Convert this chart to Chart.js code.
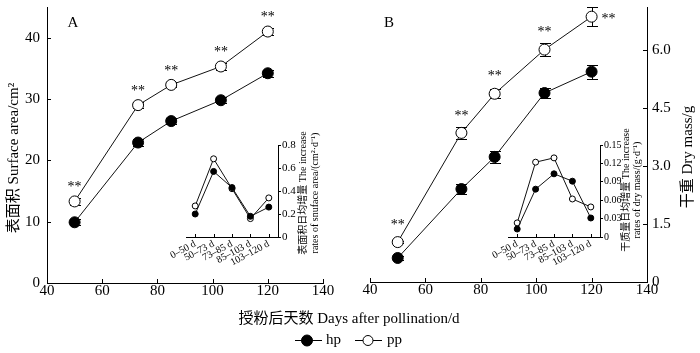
<!DOCTYPE html>
<html><head><meta charset="utf-8">
<script src="https://cdn.jsdelivr.net/npm/chart.js@4.4.1/dist/chart.umd.min.js"></script>
<style>
html,body{margin:0;padding:0;background:#fff;}
#wrap{position:relative;width:700px;height:353px;background:#fff;}
#wrap canvas{position:absolute;left:0;top:0;}
</style></head><body>
<div id="wrap">
<canvas id="cA" width="700" height="353"></canvas>
<canvas id="cB" width="700" height="353"></canvas>
<canvas id="cIA" width="700" height="353"></canvas>
<canvas id="cIB" width="700" height="353"></canvas>
</div>
<script>
// ---------- data ----------
const seriesNames = ['hp', 'pp'];
const days = [50, 73, 85, 103, 120];
const hpArea = [9.9, 22.9, 26.4, 29.8, 34.2];
const ppArea = [13.3, 29.0, 32.3, 35.3, 41.0];
const hpAreaErr = [0.5, 0.5, 0.5, 0.5, 0.6];
const ppAreaErr = [0.6, 0.5, 0.4, 0.5, 0.6];
const hpMass = [0.62, 2.40, 3.23, 4.88, 5.43];
const ppMass = [1.03, 3.85, 4.86, 6.00, 6.85];
const hpMassErr = [0.05, 0.14, 0.15, 0.14, 0.18];
const ppMassErr = [0.03, 0.16, 0.11, 0.16, 0.24];
const sigA = ['**', '**', '**', '**', '**'];
const sigB = ['**', '**', '**', '**', '**'];
const periods = ['0–50 d', '50–73 d', '73–85 d', '85–103 d', '103–120 d'];
const hpAreaRate = [0.20, 0.57, 0.43, 0.18, 0.26];
const ppAreaRate = [0.27, 0.68, 0.42, 0.16, 0.34];
const hpMassRate = [0.013, 0.078, 0.103, 0.091, 0.031];
const ppMassRate = [0.023, 0.122, 0.129, 0.062, 0.049];

const SERIF = "'Liberation Serif', 'Noto Sans CJK SC', serif";
const MIX = "'Liberation Serif', 'Noto Sans CJK SC', serif";

function txt(ctx, s, x, y, font, align, base, rot) {
  ctx.save();
  ctx.font = font; ctx.fillStyle = '#000';
  ctx.textAlign = align || 'center'; ctx.textBaseline = base || 'middle';
  ctx.translate(x, y); if (rot) ctx.rotate(rot);
  ctx.fillText(s, 0, 0);
  ctx.restore();
}

// inward tick marks
const innerTicks = {
  id: 'innerTicks',
  afterDraw(chart, args, opts) {
    const ctx = chart.ctx;
    ctx.save(); ctx.strokeStyle = '#000'; ctx.lineWidth = 1;
    (opts.scales || []).forEach(id => {
      const s = chart.scales[id];
      const len = opts.len || 4;
      s.ticks.forEach((t, i) => {
        const p = Math.round(s.getPixelForTick(i)) + 0.5;
        ctx.beginPath();
        if (s.isHorizontal()) {
          const y = Math.round(s.top);
          ctx.moveTo(p, y); ctx.lineTo(p, y - len);
        } else if (s.position === 'left') {
          const x = Math.round(s.right);
          ctx.moveTo(x, p); ctx.lineTo(x + len, p);
        } else {
          const x = Math.round(s.left);
          ctx.moveTo(x, p); ctx.lineTo(x - len, p);
        }
        ctx.stroke();
      });
    });
    ctx.restore();
  }
};

const errorBars = {
  id: 'errorBars',
  beforeDatasetsDraw(chart, args, opts) {
    const ctx = chart.ctx, xs = chart.scales.x, ys = chart.scales.y;
    ctx.save(); ctx.strokeStyle = '#000'; ctx.lineWidth = 1;
    (opts.sets || []).forEach(set => {
      set.vals.forEach((v, i) => {
        const x = Math.round(xs.getPixelForValue(set.x[i])) + 0.5;
        const y1 = Math.round(ys.getPixelForValue(v - set.err[i])) + 0.5;
        const y2 = Math.round(ys.getPixelForValue(v + set.err[i])) + 0.5;
        const w = 5.5;
        ctx.beginPath();
        ctx.moveTo(x, y1); ctx.lineTo(x, y2);
        ctx.moveTo(x - w, y1); ctx.lineTo(x + w, y1);
        ctx.moveTo(x - w, y2); ctx.lineTo(x + w, y2);
        ctx.stroke();
      });
    });
    ctx.restore();
  }
};

const extrasA = {
  id: 'extrasA',
  afterDraw(chart) {
    const ctx = chart.ctx, xs = chart.scales.x, ys = chart.scales.y;
    txt(ctx, 'A', 73, 23, "15px " + SERIF);
    txt(ctx, '表面积 Surface area/cm²', 14, 158, "15px " + MIX, 'center', 'middle', -Math.PI / 2);
    txt(ctx, '授粉后天数 Days after pollination/d', 349, 319, "15px " + MIX);
    days.forEach((d, i) => {
      txt(ctx, sigA[i], xs.getPixelForValue(d), ys.getPixelForValue(ppArea[i]) - 14, "14px " + SERIF);
    });
    // legend
    const ly = 340.5;
    ctx.save(); ctx.strokeStyle = '#000'; ctx.lineWidth = 1;
    ctx.beginPath(); ctx.moveTo(295, ly); ctx.lineTo(322, ly); ctx.moveTo(355, ly); ctx.lineTo(382, ly); ctx.stroke();
    ctx.beginPath(); ctx.arc(307, ly, 5.5, 0, Math.PI * 2); ctx.fillStyle = '#000'; ctx.fill(); ctx.stroke();
    ctx.beginPath(); ctx.arc(368, ly, 5, 0, Math.PI * 2); ctx.fillStyle = '#fff'; ctx.fill(); ctx.stroke();
    ctx.restore();
    txt(ctx, seriesNames[0], 326, ly, "15px " + SERIF, 'left');
    txt(ctx, seriesNames[1], 387, ly, "15px " + SERIF, 'left');
  }
};

const extrasB = {
  id: 'extrasB',
  afterDraw(chart) {
    const ctx = chart.ctx, xs = chart.scales.x, ys = chart.scales.y;
    txt(ctx, 'B', 389, 23, "15px " + SERIF);
    txt(ctx, '干重 Dry mass/g', 688, 157, "15px " + MIX, 'center', 'middle', -Math.PI / 2);
    days.forEach((d, i) => {
      const x = xs.getPixelForValue(d), y = ys.getPixelForValue(ppMass[i]);
      if (i === days.length - 1) txt(ctx, sigB[i], x + 17, y + 3, "14px " + SERIF);
      else txt(ctx, sigB[i], x, y - 17, "14px " + SERIF);
    });
  }
};

const extrasIA = {
  id: 'extrasIA',
  afterDraw(chart) {
    const ctx = chart.ctx;
    txt(ctx, '表面积日均增量 The increase', 303, 193, "10px " + MIX, 'center', 'middle', -Math.PI / 2);
    txt(ctx, 'rates of snuface area/(cm²·d⁻¹)', 315, 193, "10px " + MIX, 'center', 'middle', -Math.PI / 2);
  }
};
const extrasIB = {
  id: 'extrasIB',
  afterDraw(chart) {
    const ctx = chart.ctx;
    txt(ctx, '干质量日均增量 The increase', 626, 190, "10px " + MIX, 'center', 'middle', -Math.PI / 2);
    txt(ctx, 'rates of dry mass/(g·d⁻¹)', 637, 190, "10px " + MIX, 'center', 'middle', -Math.PI / 2);
  }
};

function mainSet(label, xs, ys, fill, r) {
  return {
    label, data: xs.map((d, i) => ({ x: d, y: ys[i] })),
    borderColor: '#111', borderWidth: 1, pointRadius: r, pointHoverRadius: r,
    pointBackgroundColor: fill, pointBorderColor: '#000', pointBorderWidth: 1, tension: 0
  };
}
function insetSet(label, ys, fill) {
  return {
    label, data: ys.slice(),
    borderColor: '#111', borderWidth: 1, pointRadius: 3, pointHoverRadius: 3,
    pointBackgroundColor: fill, pointBorderColor: '#000', pointBorderWidth: 1, tension: 0
  };
}
const tickFont = { family: SERIF, size: 15 };
const common = { responsive: false, animation: false, devicePixelRatio: 1, events: [] };
function noPad(s) { s.paddingTop = 0; s.paddingBottom = 0; s.paddingLeft = 0; s.paddingRight = 0; }

// ---------- Panel A ----------
new Chart(document.getElementById('cA'), {
  type: 'line',
  data: { datasets: [mainSet(seriesNames[0], days, hpArea, '#000', 5.5), mainSet(seriesNames[1], days, ppArea, '#fff', 5.5)] },
  plugins: [innerTicks, errorBars, extrasA],
  options: Object.assign({}, common, {
    layout: { padding: { left: 0, top: 7, right: 377, bottom: 0 } },
    plugins: {
      legend: { display: false }, tooltip: { enabled: false },
      innerTicks: { scales: ['x', 'y'], len: 4 },
      errorBars: { sets: [{ x: days, vals: hpArea, err: hpAreaErr }, { x: days, vals: ppArea, err: ppAreaErr }] }
    },
    scales: {
      x: {
        type: 'linear', position: 'bottom', min: 40, max: 140,
        ticks: { stepSize: 20, font: tickFont, color: '#000', padding: -1, maxRotation: 0 },
        grid: { display: false, drawTicks: false }, border: { display: true, color: '#000', width: 1 },
        afterFit(s) { s.height = 70; noPad(s); }
      },
      y: {
        type: 'linear', position: 'left', min: 0, max: 45,
        ticks: { stepSize: 10, font: tickFont, color: '#000', padding: 7 },
        grid: { display: false, drawTicks: false }, border: { display: true, color: '#000', width: 1 },
        afterBuildTicks(s) { s.ticks = s.ticks.filter(t => Math.abs(t.value % 10) < 1e-9); },
        afterFit(s) { s.width = 47; noPad(s); }
      }
    }
  })
});

// ---------- Panel B ----------
new Chart(document.getElementById('cB'), {
  type: 'line',
  data: { datasets: [mainSet(seriesNames[0], days, hpMass, '#000', 5.5), mainSet(seriesNames[1], days, ppMass, '#fff', 5.5)] },
  plugins: [innerTicks, errorBars, extrasB],
  options: Object.assign({}, common, {
    layout: { padding: { left: 370, top: 7, right: 0, bottom: 0 } },
    plugins: {
      legend: { display: false }, tooltip: { enabled: false },
      innerTicks: { scales: ['x', 'y'], len: 4 },
      errorBars: { sets: [{ x: days, vals: hpMass, err: hpMassErr }, { x: days, vals: ppMass, err: ppMassErr }] }
    },
    scales: {
      x: {
        type: 'linear', position: 'bottom', min: 40, max: 140,
        ticks: { stepSize: 20, font: tickFont, color: '#000', padding: -1, maxRotation: 0 },
        grid: { display: false, drawTicks: false }, border: { display: true, color: '#000', width: 1 },
        afterFit(s) { s.height = 71; noPad(s); }
      },
      y: {
        type: 'linear', position: 'right', min: 0, max: 7.1,
        ticks: { stepSize: 1.5, font: tickFont, color: '#000', padding: 5,
          callback: v => (v === 0 ? '0' : Number(v).toFixed(1)) },
        grid: { display: false, drawTicks: false }, border: { display: true, color: '#000', width: 1 },
        afterBuildTicks(s) { s.ticks = s.ticks.filter(t => Math.abs(t.value / 1.5 - Math.round(t.value / 1.5)) < 1e-6); },
        afterFit(s) { s.width = 53; noPad(s); }
      }
    }
  })
});

// ---------- Insets ----------
function insetOptions(left, right, max, step, dec, fontSize) {
  return Object.assign({}, common, {
    layout: { padding: { left: left, top: 145, right: 0, bottom: 0 } },
    plugins: { legend: { display: false }, tooltip: { enabled: false }, innerTicks: { scales: ['x'], len: 3 } },
    scales: {
      x: {
        type: 'category', position: 'bottom', offset: true,
        ticks: { font: { family: SERIF, size: 10 }, color: '#000', padding: 1, minRotation: 28, maxRotation: 28, autoSkip: false },
        grid: { display: false, drawTicks: false }, border: { display: true, color: '#000', width: 1 },
        afterFit(s) { s.height = 353 - 237; noPad(s); }
      },
      y: {
        type: 'linear', position: 'right', min: 0, max: max,
        ticks: { stepSize: step, font: { family: SERIF, size: fontSize }, color: '#000', padding: 1,
          callback: v => (v === 0 ? '0' : Number(v).toFixed(dec)) },
        grid: { display: true, drawOnChartArea: false, drawTicks: true, tickLength: 3, color: '#000' },
        border: { display: true, color: '#000', width: 1 },
        afterFit(s) { s.width = 700 - right; noPad(s); }
      }
    }
  });
}
new Chart(document.getElementById('cIA'), {
  type: 'line',
  data: { labels: periods, datasets: [insetSet(seriesNames[0], hpAreaRate, '#000'), insetSet(seriesNames[1], ppAreaRate, '#fff')] },
  plugins: [innerTicks, extrasIA],
  options: insetOptions(186, 278, 0.8, 0.2, 1, 11)
});
new Chart(document.getElementById('cIB'), {
  type: 'line',
  data: { labels: periods, datasets: [insetSet(seriesNames[0], hpMassRate, '#000'), insetSet(seriesNames[1], ppMassRate, '#fff')] },
  plugins: [innerTicks, extrasIB],
  options: insetOptions(508, 600, 0.15, 0.03, 2, 10)
});
</script>
</body></html>
